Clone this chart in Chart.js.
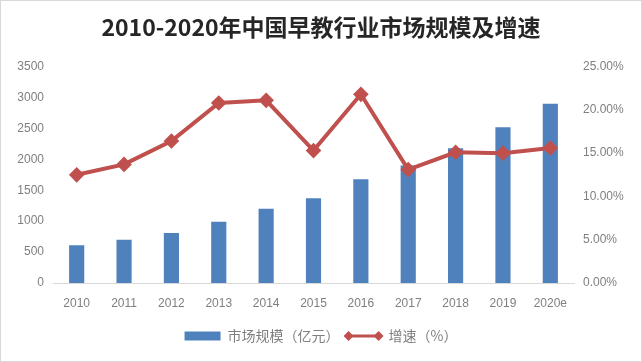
<!DOCTYPE html>
<html>
<head>
<meta charset="utf-8">
<script src="https://cdn.jsdelivr.net/npm/chart.js@4"></script>
<style>
  body { margin: 0; background: #fff; }
  #wrap { width: 642px; height: 362px; box-sizing: border-box; border: 1px solid #d9d9d9; }
</style>
</head>
<body>
<div id="wrap"><canvas id="chart" width="640" height="360"></canvas></div>
<script>
// data
const years = ["2010", "2011", "2012", "2013", "2014", "2015", "2016", "2017", "2018", "2019", "2020e"];
const marketSize = [610, 700, 810, 990, 1200, 1370, 1680, 1900, 2180, 2520, 2900];
const growthRate = [12.5, 13.7, 16.4, 20.8, 21.1, 15.3, 21.8, 13.1, 15.1, 15.0, 15.6];
const leftTicks = [0, 500, 1000, 1500, 2000, 2500, 3000, 3500];
const rightTicks = [0, 5, 10, 15, 20, 25];

const tickColor = "#7f7f7f";
const red = "#c0504d";
const tickFont = { family: "'Liberation Sans', sans-serif", size: 12 };

// draw the line legend entry as a line with diamonds at both ends
const lineLegend = {
  id: "lineLegend",
  afterDraw(chart) {
    const legend = chart.legend;
    if (!legend || !legend.legendHitBoxes) return;
    const box = legend.legendHitBoxes[1];
    const w = legend.options.labels.boxWidth;
    const y = box.top + box.height / 2;
    const x0 = box.left + 3, x1 = box.left + w - 3;
    const ctx = chart.ctx;
    ctx.save();
    ctx.strokeStyle = red;
    ctx.lineWidth = 3;
    ctx.beginPath();
    ctx.moveTo(x0, y);
    ctx.lineTo(x1, y);
    ctx.stroke();
    ctx.fillStyle = red;
    [x0, x1].forEach(x => {
      ctx.beginPath();
      ctx.moveTo(x - 5, y);
      ctx.lineTo(x, y - 5);
      ctx.lineTo(x + 5, y);
      ctx.lineTo(x, y + 5);
      ctx.closePath();
      ctx.fill();
    });
    ctx.restore();
  }
};

new Chart(document.getElementById("chart"), {
  data: {
    labels: years,
    datasets: [
      {
        type: "line",
        label: "增速（%）",
        data: growthRate,
        yAxisID: "y1",
        borderColor: red,
        backgroundColor: red,
        borderWidth: 4,
        pointStyle: "rectRot",
        pointRadius: 5,
        pointHoverRadius: 5,
        tension: 0,
        order: 0
      },
      {
        type: "bar",
        label: "市场规模（亿元）",
        data: marketSize,
        yAxisID: "y",
        backgroundColor: "#4f81bd",
        barPercentage: 0.32,
        categoryPercentage: 1,
        order: 1
      }
    ]
  },
  options: {
    responsive: false,
    animation: false,
    layout: { padding: { left: 0, right: 0, top: 0, bottom: 8 } },
    plugins: {
      title: {
        display: true,
        text: "2010-2020年中国早教行业市场规模及增速",
        color: "#262626",
        font: { family: "'Noto Sans CJK SC', sans-serif", size: 23, weight: "bold" },
        padding: { top: 12, bottom: 26 }
      },
      legend: {
        position: "bottom",
        labels: {
          boxWidth: 36,
          boxHeight: 9,
          padding: 6,
          color: "#7f7f7f",
          font: { family: "'Noto Sans CJK SC', sans-serif", size: 14 },
          generateLabels(chart) {
            const items = Chart.defaults.plugins.legend.labels.generateLabels(chart);
            items.sort((a, b) => b.datasetIndex - a.datasetIndex);
            items.forEach(it => {
              it.lineWidth = 0;
              if (it.datasetIndex === 0) {
                it.fillStyle = "rgba(0,0,0,0)";
                it.strokeStyle = "rgba(0,0,0,0)";
              }
            });
            return items;
          }
        }
      },
      tooltip: { enabled: false }
    },
    scales: {
      x: {
        grid: { display: false, drawTicks: false },
        border: { display: true, color: "#d9d9d9" },
        afterFit(scale) { scale.height = 40; },
        ticks: { color: tickColor, font: tickFont, padding: 13 }
      },
      y: {
        position: "left",
        min: 0,
        max: 3500,
        grid: { display: false, drawTicks: false },
        border: { display: false },
        afterBuildTicks(scale) { scale.ticks = leftTicks.map(v => ({ value: v })); },
        afterFit(scale) { scale.width = 52; },
        ticks: { color: tickColor, font: tickFont, padding: 9, callback: v => String(v) }
      },
      y1: {
        position: "right",
        min: 0,
        max: 25,
        grid: { display: false, drawTicks: false },
        border: { display: false },
        afterBuildTicks(scale) { scale.ticks = rightTicks.map(v => ({ value: v })); },
        afterFit(scale) { scale.width = 67; },
        ticks: { color: tickColor, font: tickFont, padding: 9, callback: v => v.toFixed(2) + "%" }
      }
    }
  },
  plugins: [lineLegend]
});
</script>
</body>
</html>
